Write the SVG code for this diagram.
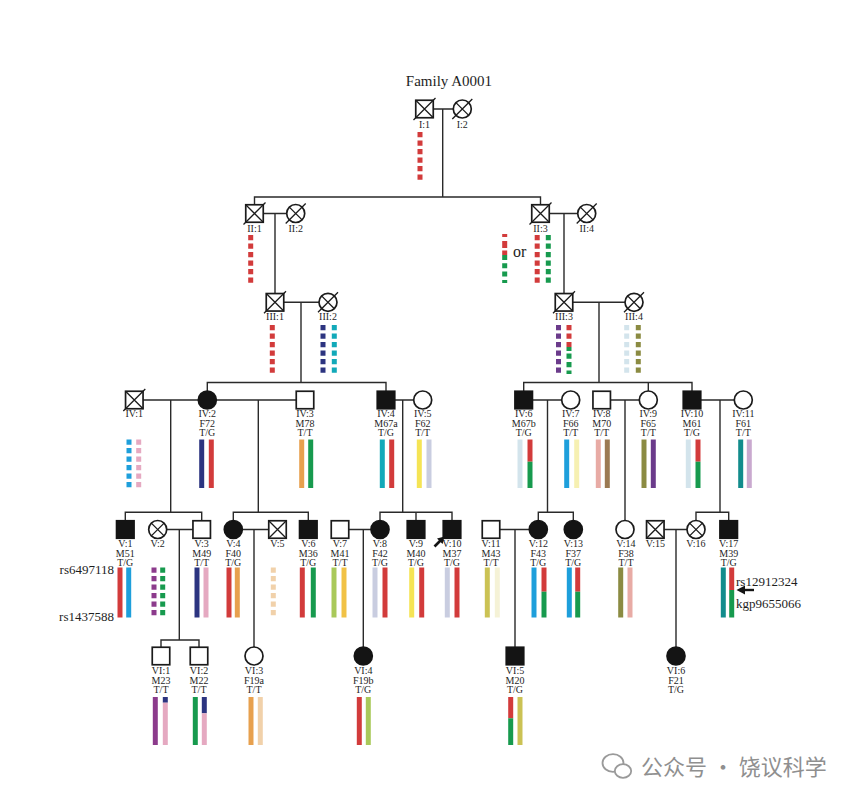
<svg xmlns="http://www.w3.org/2000/svg" width="854" height="800" viewBox="0 0 854 800">
<defs>
<style>
.n{fill:#fff;stroke:#1b1b1b;stroke-width:1.7}
.f{fill:#141414;stroke:#141414;stroke-width:1.7}
.x{fill:none;stroke:#1b1b1b;stroke-width:1.3}
.c{fill:none;stroke:#2a2a2a;stroke-width:1.4}
.t{font-family:"Liberation Serif","Times New Roman",serif;font-size:10px;text-anchor:middle;fill:#1e1e1e}
.big{font-family:"Liberation Serif","Times New Roman",serif;fill:#1e1e1e}
.b{fill:none;stroke-width:5}
.d{stroke-dasharray:5.2 3.3}
.R{stroke:#d23b3b}.G{stroke:#179a4e}.N{stroke:#2c3480}.T{stroke:#12a9b9}.C{stroke:#1e9fdb}
.P{stroke:#e5a9c1}.O{stroke:#e7a04e}.Y{stroke:#f5e455}.L{stroke:#c9cde0}.LB{stroke:#d3e4ec}
.LY{stroke:#f6f0b2}.S{stroke:#e8aba5}.BR{stroke:#9b7a52}.OL{stroke:#8b8b42}.PU{stroke:#6b3b8b}
.DT{stroke:#128c8c}.LI{stroke:#c9a9cf}.LG{stroke:#a9c95a}.OY{stroke:#f1c246}.K{stroke:#cbc254}
.CR{stroke:#f5f2d6}.PE{stroke:#f1d1aa}.MP{stroke:#8c3b8c}
.wm{font-family:"Noto Sans CJK SC","Noto Sans",sans-serif;font-size:22px;fill:#8f8f8f}
</style>
</defs>
<rect width="854" height="800" fill="#fff"/>
<text class="big" x="449" y="86" font-size="15" text-anchor="middle">Family A0001</text>

<g id="connectors">
<path class="c" d="M433.25,109 H453.3 M442.7,109 V197 M254.5,204.75 V197 H540.5 V204.75"/>
<path class="c" d="M263.25,213.5 H286.7 M275,213.5 V293.55 M549.25,213.5 H577.7 M564,213.5 V293.55"/>
<path class="c" d="M283.75,302.3 H319 M301,302.3 V382.5 M207.3,391 V382.5 H386 V391.25"/>
<path class="c" d="M572.75,302.3 H625 M599,302.3 V382.5 M523.7,391.25 V382.5 H692 V391.25 M648.3,382.5 V391"/>
<path class="c" d="M142.5,400 H198.3 M216.3,400 H296.25 M394.75,400 H413.7 M532.45,400 H561.7 M610.45,400 H639.3 M700.75,400 H734.3"/>
<path class="c" d="M170.7,400 V512.3 M258.3,400 V512.3 M402.7,400 V512.3 M547.5,400 V512.3 M625,400 V520.5 M720,400 V512.3"/>
<path class="c" d="M125.3,520.75 V512.3 H201.7 V520.75 M233.3,520.5 V512.3 H308.3 V520.75 M380,520.5 V512.3 H452 V520.75 M416,512.3 V520.75 M538.3,520.5 V512.3 H573.3 V520.5 M696,520.5 V512.3 H728.7 V520.75"/>
<path class="c" d="M166.7,529.5 H192.95 M242.3,529.5 H268.75 M348.75,529.5 H371 M499.75,529.5 H529.3 M664.05,529.5 H687"/>
<path class="c" d="M179.3,529.5 V640 M161,647.25 V640 H199 V647.25 M254,529.5 V647 M363.3,529.5 V647 M515,529.5 V647.25 M676,529.5 V647"/>
</g>

<g id="I1"><rect class="n" x="415.75" y="100.25" width="17.5" height="17.5"/><path class="x" d="M415.75,100.25 L433.25,117.75 M415.75,117.75 L433.25,100.25 M413.5,120 L435.5,98"/><text class="t" x="424.5" y="127.5">I:1</text>
<line class="b d R" x1="420" y1="132" x2="420" y2="181"/></g>
<g id="I2"><circle class="n" cx="462.3" cy="109" r="9"/><path class="x" d="M455.9,102.6 L468.7,115.4 M455.9,115.4 L468.7,102.6 M452.3,119 L472.3,99"/><text class="t" x="462.3" y="127.5">I:2</text></g>

<g id="II1"><rect class="n" x="245.75" y="204.75" width="17.5" height="17.5"/><path class="x" d="M245.75,204.75 L263.25,222.25 M245.75,222.25 L263.25,204.75 M243.5,224.5 L265.5,202.5"/><text class="t" x="254.5" y="231.5">II:1</text>
<line class="b d R" x1="250.7" y1="235" x2="250.7" y2="283"/></g>
<g id="II2"><circle class="n" cx="295.7" cy="213.5" r="9"/><path class="x" d="M289.3,207.1 L302.1,219.9 M289.3,219.9 L302.1,207.1 M285.7,223.5 L305.7,203.5"/><text class="t" x="295.7" y="231.5">II:2</text></g>
<g id="II3"><rect class="n" x="531.75" y="204.75" width="17.5" height="17.5"/><path class="x" d="M531.75,204.75 L549.25,222.25 M531.75,222.25 L549.25,204.75 M529.5,224.5 L551.5,202.5"/><text class="t" x="540.5" y="231.5">II:3</text>
<line class="b d R" x1="537.2" y1="235" x2="537.2" y2="283"/><line class="b d G" x1="548.3" y1="235" x2="548.3" y2="283"/>
<line class="b R" x1="504.7" y1="234" x2="504.7" y2="255" stroke-dasharray="3 4 7 2.5 4.5 0"/><line class="b G" x1="504.7" y1="255" x2="504.7" y2="283" stroke-dasharray="5 3.3"/>
<text class="big" x="513" y="256.7" font-size="16">or</text></g>
<g id="II4"><circle class="n" cx="586.7" cy="213.5" r="9"/><path class="x" d="M580.3,207.1 L593.1,219.9 M580.3,219.9 L593.1,207.1 M576.7,223.5 L596.7,203.5"/><text class="t" x="586.7" y="231.5">II:4</text></g>

<g id="III1"><rect class="n" x="266.25" y="293.55" width="17.5" height="17.5"/><path class="x" d="M266.25,293.55 L283.75,311.05 M266.25,311.05 L283.75,293.55 M264,313.3 L286,291.3"/><text class="t" x="275" y="319.5">III:1</text>
<line class="b d R" x1="272.3" y1="325" x2="272.3" y2="374"/></g>
<g id="III2"><circle class="n" cx="328" cy="302.3" r="9"/><path class="x" d="M321.6,295.9 L334.4,308.7 M321.6,308.7 L334.4,295.9 M318,312.3 L338,292.3"/><text class="t" x="328" y="319.5">III:2</text>
<line class="b d N" x1="323" y1="325" x2="323" y2="374"/><line class="b d T" x1="334.3" y1="325" x2="334.3" y2="374"/></g>
<g id="III3"><rect class="n" x="555.25" y="293.55" width="17.5" height="17.5"/><path class="x" d="M555.25,293.55 L572.75,311.05 M555.25,311.05 L572.75,293.55 M553,313.3 L575,291.3"/><text class="t" x="564" y="319.5">III:3</text>
<line class="b d PU" x1="558.5" y1="325" x2="558.5" y2="374"/><line class="b d R" x1="569" y1="325" x2="569" y2="347"/><line class="b G" x1="569" y1="347" x2="569" y2="374" stroke-dasharray="4 2.5 5.2 3.3 5.2 3.3 5.2 3.3"/></g>
<g id="III4"><circle class="n" cx="634" cy="302.3" r="9"/><path class="x" d="M627.6,295.9 L640.4,308.7 M627.6,308.7 L640.4,295.9 M624,312.3 L644,292.3"/><text class="t" x="634" y="319.5">III:4</text>
<line class="b d LB" x1="626.7" y1="325" x2="626.7" y2="374"/><line class="b d OL" x1="638.3" y1="325" x2="638.3" y2="374"/></g>

<g id="IV1"><rect class="n" x="125.55" y="391.25" width="17.5" height="17.5"/><path class="x" d="M125.55,391.25 L143.05,408.75 M125.55,408.75 L143.05,391.25 M123.3,411 L145.3,389"/><text class="t" x="134.3" y="416.5">IV:1</text>
<line class="b d C" x1="129" y1="439.5" x2="129" y2="488"/><line class="b d P" x1="138.7" y1="439.5" x2="138.7" y2="488"/></g>
<g id="IV2"><circle class="f" cx="207.3" cy="400" r="9"/><text class="t" x="207.3" y="416.5">IV:2</text><text class="t" x="207.3" y="426.5">F72</text><text class="t" x="207.3" y="436">T/G</text>
<line class="b N" x1="201.7" y1="439.5" x2="201.7" y2="488"/><line class="b R" x1="211.3" y1="439.5" x2="211.3" y2="488"/></g>
<g id="IV3"><rect class="n" x="296.25" y="391.25" width="17.5" height="17.5"/><text class="t" x="305" y="416.5">IV:3</text><text class="t" x="305" y="426.5">M78</text><text class="t" x="305" y="436">T/T</text>
<line class="b O" x1="301.7" y1="439.5" x2="301.7" y2="488"/><line class="b G" x1="310.7" y1="439.5" x2="310.7" y2="488"/></g>
<g id="IV4"><rect class="f" x="377.25" y="391.25" width="17.5" height="17.5"/><text class="t" x="386" y="416.5">IV:4</text><text class="t" x="386" y="426.5">M67a</text><text class="t" x="386" y="436">T/G</text>
<line class="b T" x1="382.3" y1="439.5" x2="382.3" y2="488"/><line class="b R" x1="391.7" y1="439.5" x2="391.7" y2="488"/></g>
<g id="IV5"><circle class="n" cx="422.7" cy="400" r="9"/><text class="t" x="422.7" y="416.5">IV:5</text><text class="t" x="422.7" y="426.5">F62</text><text class="t" x="422.7" y="436">T/T</text>
<line class="b Y" x1="419.3" y1="439.5" x2="419.3" y2="488"/><line class="b L" x1="429" y1="439.5" x2="429" y2="488"/></g>
<g id="IV6"><rect class="f" x="514.95" y="391.25" width="17.5" height="17.5"/><text class="t" x="523.7" y="416.5">IV:6</text><text class="t" x="523.7" y="426.5">M67b</text><text class="t" x="523.7" y="436">T/G</text>
<line class="b LB" x1="520" y1="439.5" x2="520" y2="488"/><line class="b R" x1="530" y1="439.5" x2="530" y2="461.7"/><line class="b G" x1="530" y1="461.7" x2="530" y2="488"/></g>
<g id="IV7"><circle class="n" cx="570.7" cy="400" r="9"/><text class="t" x="570.7" y="416.5">IV:7</text><text class="t" x="570.7" y="426.5">F66</text><text class="t" x="570.7" y="436">T/T</text>
<line class="b C" x1="566.7" y1="439.5" x2="566.7" y2="488"/><line class="b LY" x1="576.7" y1="439.5" x2="576.7" y2="488"/></g>
<g id="IV8"><rect class="n" x="592.95" y="391.25" width="17.5" height="17.5"/><text class="t" x="601.7" y="416.5">IV:8</text><text class="t" x="601.7" y="426.5">M70</text><text class="t" x="601.7" y="436">T/T</text>
<line class="b S" x1="598.3" y1="439.5" x2="598.3" y2="488"/><line class="b BR" x1="607.3" y1="439.5" x2="607.3" y2="488"/></g>
<g id="IV9"><circle class="n" cx="648.3" cy="400" r="9"/><text class="t" x="648.3" y="416.5">IV:9</text><text class="t" x="648.3" y="426.5">F65</text><text class="t" x="648.3" y="436">T/T</text>
<line class="b OL" x1="644" y1="439.5" x2="644" y2="488"/><line class="b PU" x1="653.3" y1="439.5" x2="653.3" y2="488"/></g>
<g id="IV10"><rect class="f" x="683.25" y="391.25" width="17.5" height="17.5"/><text class="t" x="692" y="416.5">IV:10</text><text class="t" x="692" y="426.5">M61</text><text class="t" x="692" y="436">T/G</text>
<line class="b LB" x1="688.3" y1="439.5" x2="688.3" y2="488"/><line class="b R" x1="698" y1="439.5" x2="698" y2="461.7"/><line class="b G" x1="698" y1="461.7" x2="698" y2="488"/></g>
<g id="IV11"><circle class="n" cx="743.3" cy="400" r="9"/><text class="t" x="743.3" y="416.5">IV:11</text><text class="t" x="743.3" y="426.5">F61</text><text class="t" x="743.3" y="436">T/T</text>
<line class="b DT" x1="740.7" y1="439.5" x2="740.7" y2="488"/><line class="b LI" x1="749.3" y1="439.5" x2="749.3" y2="488"/></g>

<g id="V1"><rect class="f" x="116.55" y="520.75" width="17.5" height="17.5"/><text class="t" x="125.3" y="546.8">V:1</text><text class="t" x="125.3" y="556.5">M51</text><text class="t" x="125.3" y="566">T/G</text>
<line class="b R" x1="120" y1="567.5" x2="120" y2="617.5"/><line class="b C" x1="128.7" y1="567.5" x2="128.7" y2="617.5"/>
<text class="big" x="114" y="573.5" font-size="13" text-anchor="end">rs6497118</text><text class="big" x="114" y="620.5" font-size="13" text-anchor="end">rs1437588</text></g>
<g id="V2"><circle class="n" cx="157.7" cy="529.5" r="9"/><path class="x" d="M151.3,523.1 L164.1,535.9 M151.3,535.9 L164.1,523.1"/><text class="t" x="157.7" y="546.8">V:2</text>
<line class="b d MP" x1="154" y1="567.5" x2="154" y2="617"/><line class="b d G" x1="162.7" y1="567.5" x2="162.7" y2="617"/></g>
<g id="V3"><rect class="n" x="192.95" y="520.75" width="17.5" height="17.5"/><text class="t" x="201.7" y="546.8">V:3</text><text class="t" x="201.7" y="556.5">M49</text><text class="t" x="201.7" y="566">T/T</text>
<line class="b N" x1="197" y1="567.5" x2="197" y2="617.5"/><line class="b P" x1="206" y1="567.5" x2="206" y2="617.5"/></g>
<g id="V4"><circle class="f" cx="233.3" cy="529.5" r="9"/><text class="t" x="233.3" y="546.8">V:4</text><text class="t" x="233.3" y="556.5">F40</text><text class="t" x="233.3" y="566">T/G</text>
<line class="b R" x1="229" y1="567.5" x2="229" y2="617.5"/><line class="b O" x1="237.3" y1="567.5" x2="237.3" y2="617.5"/></g>
<g id="V5"><rect class="n" x="268.75" y="520.75" width="17.5" height="17.5"/><path class="x" d="M268.75,520.75 L286.25,538.25 M268.75,538.25 L286.25,520.75"/><text class="t" x="277.5" y="546.8">V:5</text>
<line class="b d PE" x1="273.3" y1="567.5" x2="273.3" y2="617"/></g>
<g id="V6"><rect class="f" x="299.55" y="520.75" width="17.5" height="17.5"/><text class="t" x="308.3" y="546.8">V:6</text><text class="t" x="308.3" y="556.5">M36</text><text class="t" x="308.3" y="566">T/G</text>
<line class="b R" x1="302.3" y1="567.5" x2="302.3" y2="617.5"/><line class="b G" x1="313.3" y1="567.5" x2="313.3" y2="617.5"/></g>
<g id="V7"><rect class="n" x="331.25" y="520.75" width="17.5" height="17.5"/><text class="t" x="340" y="546.8">V:7</text><text class="t" x="340" y="556.5">M41</text><text class="t" x="340" y="566">T/T</text>
<line class="b LG" x1="334" y1="567.5" x2="334" y2="617.5"/><line class="b OY" x1="344" y1="567.5" x2="344" y2="617.5"/></g>
<g id="V8"><circle class="f" cx="380" cy="529.5" r="9"/><text class="t" x="380" y="546.8">V:8</text><text class="t" x="380" y="556.5">F42</text><text class="t" x="380" y="566">T/G</text>
<line class="b L" x1="375" y1="567.5" x2="375" y2="617.5"/><line class="b R" x1="385" y1="567.5" x2="385" y2="617.5"/></g>
<g id="V9"><rect class="f" x="407.25" y="520.75" width="17.5" height="17.5"/><text class="t" x="416" y="546.8">V:9</text><text class="t" x="416" y="556.5">M40</text><text class="t" x="416" y="566">T/G</text>
<line class="b Y" x1="411.7" y1="567.5" x2="411.7" y2="617.5"/><line class="b R" x1="421.7" y1="567.5" x2="421.7" y2="617.5"/></g>
<g id="V10"><rect class="f" x="443.25" y="520.75" width="17.5" height="17.5"/><text class="t" x="452" y="546.8">V:10</text><text class="t" x="452" y="556.5">M37</text><text class="t" x="452" y="566">T/G</text>
<line x1="434.5" y1="546.5" x2="440.5" y2="540.5" stroke="#141414" stroke-width="2.6"/><polygon points="444.5,536.5 442.6,544 437,538.4" fill="#141414"/>
<line class="b L" x1="447.3" y1="567.5" x2="447.3" y2="617.5"/><line class="b R" x1="457" y1="567.5" x2="457" y2="617.5"/></g>
<g id="V11"><rect class="n" x="482.25" y="520.75" width="17.5" height="17.5"/><text class="t" x="491" y="546.8">V:11</text><text class="t" x="491" y="556.5">M43</text><text class="t" x="491" y="566">T/T</text>
<line class="b K" x1="487.3" y1="567.5" x2="487.3" y2="617.5"/><line class="b CR" x1="497.3" y1="567.5" x2="497.3" y2="617.5"/></g>
<g id="V12"><circle class="f" cx="538.3" cy="529.5" r="9"/><text class="t" x="538.3" y="546.8">V:12</text><text class="t" x="538.3" y="556.5">F43</text><text class="t" x="538.3" y="566">T/G</text>
<line class="b C" x1="534" y1="567.5" x2="534" y2="617.5"/><line class="b R" x1="544" y1="567.5" x2="544" y2="591.7"/><line class="b G" x1="544" y1="591.7" x2="544" y2="617.5"/></g>
<g id="V13"><circle class="f" cx="573.3" cy="529.5" r="9"/><text class="t" x="573.3" y="546.8">V:13</text><text class="t" x="573.3" y="556.5">F37</text><text class="t" x="573.3" y="566">T/G</text>
<line class="b C" x1="569.3" y1="567.5" x2="569.3" y2="617.5"/><line class="b R" x1="577.7" y1="567.5" x2="577.7" y2="591.7"/><line class="b G" x1="577.7" y1="591.7" x2="577.7" y2="617.5"/></g>
<g id="V14"><circle class="n" cx="625" cy="529.5" r="9"/><text class="t" x="626" y="546.8">V:14</text><text class="t" x="626" y="556.5">F38</text><text class="t" x="626" y="566">T/T</text>
<line class="b OL" x1="620.7" y1="567.5" x2="620.7" y2="617.5"/><line class="b S" x1="630" y1="567.5" x2="630" y2="617.5"/></g>
<g id="V15"><rect class="n" x="646.55" y="520.75" width="17.5" height="17.5"/><path class="x" d="M646.55,520.75 L664.05,538.25 M646.55,538.25 L664.05,520.75"/><text class="t" x="655.3" y="546.8">V:15</text></g>
<g id="V16"><circle class="n" cx="696" cy="529.5" r="9"/><path class="x" d="M689.6,523.1 L702.4,535.9 M689.6,535.9 L702.4,523.1"/><text class="t" x="696" y="546.8">V:16</text></g>
<g id="V17"><rect class="f" x="719.95" y="520.75" width="17.5" height="17.5"/><text class="t" x="728.7" y="546.8">V:17</text><text class="t" x="728.7" y="556.5">M39</text><text class="t" x="728.7" y="566">T/G</text>
<line class="b DT" x1="723.3" y1="567.5" x2="723.3" y2="617.5"/><line class="b R" x1="731.7" y1="567.5" x2="731.7" y2="590"/><line class="b G" x1="731.7" y1="590" x2="731.7" y2="617.5"/>
<line x1="743" y1="590" x2="754" y2="590" stroke="#141414" stroke-width="2.4"/><polygon points="736.5,590 745,585.5 745,594.5" fill="#141414"/>
<text class="big" x="736" y="585.5" font-size="13">rs12912324</text><text class="big" x="736" y="607.5" font-size="13">kgp9655066</text></g>

<g id="VI1"><rect class="n" x="152.25" y="647.25" width="17.5" height="17.5"/><text class="t" x="161" y="673.5">VI:1</text><text class="t" x="161" y="683.5">M23</text><text class="t" x="161" y="693">T/T</text>
<line class="b MP" x1="155.3" y1="697" x2="155.3" y2="745"/><line class="b N" x1="165.3" y1="697" x2="165.3" y2="702.7"/><line class="b P" x1="165.3" y1="702.7" x2="165.3" y2="745"/></g>
<g id="VI2"><rect class="n" x="190.25" y="647.25" width="17.5" height="17.5"/><text class="t" x="199" y="673.5">VI:2</text><text class="t" x="199" y="683.5">M22</text><text class="t" x="199" y="693">T/T</text>
<line class="b G" x1="195.3" y1="697" x2="195.3" y2="745"/><line class="b N" x1="204.3" y1="697" x2="204.3" y2="713.3"/><line class="b P" x1="204.3" y1="713.3" x2="204.3" y2="745"/></g>
<g id="VI3"><circle class="n" cx="254" cy="656" r="9"/><text class="t" x="254" y="673.5">VI:3</text><text class="t" x="254" y="683.5">F19a</text><text class="t" x="254" y="693">T/T</text>
<line class="b O" x1="251" y1="697" x2="251" y2="745"/><line class="b PE" x1="260.3" y1="697" x2="260.3" y2="745"/></g>
<g id="VI4"><circle class="f" cx="363.3" cy="656" r="9"/><text class="t" x="363.3" y="673.5">VI:4</text><text class="t" x="363.3" y="683.5">F19b</text><text class="t" x="363.3" y="693">T/G</text>
<line class="b R" x1="359.3" y1="697" x2="359.3" y2="745"/><line class="b LG" x1="368.3" y1="697" x2="368.3" y2="745"/></g>
<g id="VI5"><rect class="f" x="506.25" y="647.25" width="17.5" height="17.5"/><text class="t" x="515" y="673.5">VI:5</text><text class="t" x="515" y="683.5">M20</text><text class="t" x="515" y="693">T/G</text>
<line class="b R" x1="510.7" y1="697" x2="510.7" y2="718.3"/><line class="b G" x1="510.7" y1="718.3" x2="510.7" y2="745"/><line class="b K" x1="520" y1="697" x2="520" y2="745"/></g>
<g id="VI6"><circle class="f" cx="676" cy="656" r="9"/><text class="t" x="676" y="673.5">VI:6</text><text class="t" x="676" y="683.5">F21</text><text class="t" x="676" y="693">T/G</text></g>

<g id="watermark">
<ellipse cx="613" cy="763" rx="10.5" ry="8.8" fill="#fff" stroke="#9a9a9a" stroke-width="1.8"/>
<ellipse cx="623" cy="771" rx="8.2" ry="6.8" fill="#fff" stroke="#9a9a9a" stroke-width="1.8"/>
<text class="wm" x="641" y="775">公众号 · 饶议科学</text>
</g>
</svg>
